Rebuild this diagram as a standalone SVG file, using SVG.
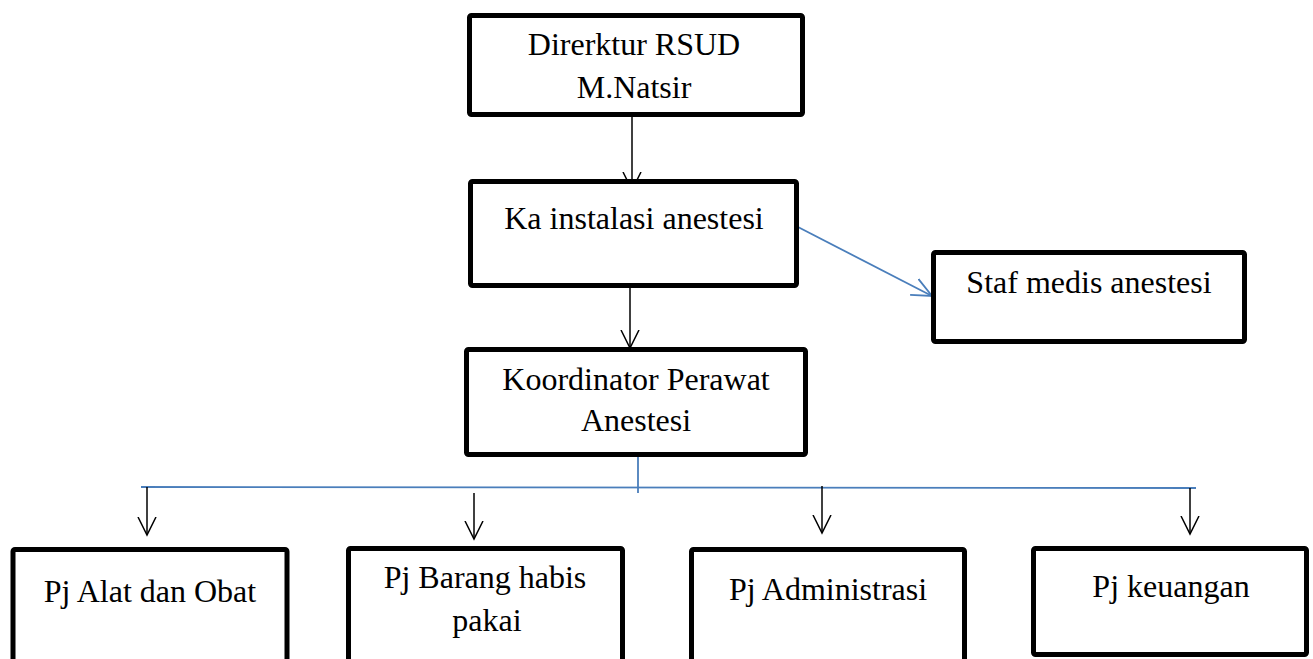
<svg xmlns="http://www.w3.org/2000/svg" width="1313" height="659" viewBox="0 0 1313 659">
<defs>
<style>
.box{fill:#fff;stroke:#000;stroke-width:5}
.t{font-family:"Liberation Serif","Times New Roman",serif;font-size:32px;fill:#000;text-anchor:middle}
.k{stroke:#000;stroke-width:1.5;fill:none}
.b{stroke:#4a7ebb;stroke-width:1.8;fill:none}
</style>
<marker id="ak" viewBox="0 0 20 20" refX="18" refY="10" markerWidth="20" markerHeight="20" markerUnits="userSpaceOnUse" orient="auto">
<path d="M0,1 L18,10 L0,19" fill="none" stroke="#000" stroke-width="1.5"/>
</marker>
<marker id="ab" viewBox="0 0 22 22" refX="20" refY="11" markerWidth="22" markerHeight="22" markerUnits="userSpaceOnUse" orient="auto">
<path d="M0,2 L20,11 L0,20" fill="none" stroke="#4a7ebb" stroke-width="1.8"/>
</marker>
</defs>
<rect width="1313" height="659" fill="#fff"/>
<g id="connectors">
<line class="k" x1="632" y1="117" x2="632" y2="190" marker-end="url(#ak)"/>
<line class="k" x1="630" y1="273" x2="630" y2="348" marker-end="url(#ak)"/>
<line class="b" x1="798" y1="227" x2="932" y2="296" marker-end="url(#ab)"/>
<line class="b" x1="638" y1="445" x2="638" y2="493"/>
<line class="b" x1="141" y1="487" x2="1196" y2="488"/>
<line class="k" x1="147" y1="487" x2="147" y2="535" marker-end="url(#ak)"/>
<line class="k" x1="474" y1="493" x2="474" y2="539" marker-end="url(#ak)"/>
<line class="k" x1="822" y1="486" x2="822" y2="533" marker-end="url(#ak)"/>
<line class="k" x1="1190" y1="488" x2="1190" y2="534" marker-end="url(#ak)"/>
</g>
<g id="direktur">
<rect class="box" x="469.5" y="15.5" width="333" height="99" rx="2"/>
<text class="t" x="634" y="55">Direrktur RSUD</text>
<text class="t" x="634" y="98">M.Natsir</text>
</g>
<g id="ka-instalasi">
<rect class="box" x="470.5" y="181.5" width="326" height="104" rx="2"/>
<text class="t" x="634" y="229">Ka instalasi anestesi</text>
</g>
<g id="staf-medis">
<rect class="box" x="933.5" y="252.5" width="311" height="89" rx="2"/>
<text class="t" x="1089" y="293">Staf medis anestesi</text>
</g>
<g id="koordinator">
<rect class="box" x="466.5" y="349.5" width="339" height="105" rx="2"/>
<text class="t" x="636" y="390">Koordinator Perawat</text>
<text class="t" x="636" y="431">Anestesi</text>
</g>
<g id="pj-alat">
<rect class="box" x="13" y="549.5" width="274" height="120" rx="2"/>
<text class="t" x="150" y="602">Pj Alat dan Obat</text>
</g>
<g id="pj-barang">
<rect class="box" x="348.5" y="548.5" width="274" height="120" rx="2"/>
<text class="t" x="485" y="588">Pj Barang habis</text>
<text class="t" x="487" y="631">pakai</text>
</g>
<g id="pj-administrasi">
<rect class="box" x="691.5" y="549.5" width="273" height="120" rx="2"/>
<text class="t" x="828" y="600">Pj Administrasi</text>
</g>
<g id="pj-keuangan">
<rect class="box" x="1033.5" y="548.5" width="273" height="106" rx="2"/>
<text class="t" x="1171" y="597">Pj keuangan</text>
</g>
</svg>
